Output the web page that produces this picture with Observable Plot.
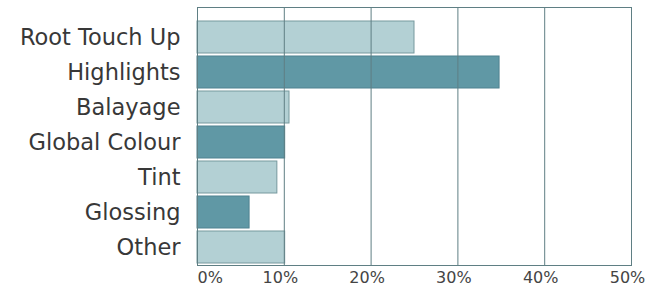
<!DOCTYPE html>
<html>
<head>
<meta charset="utf-8">
<script src="https://cdn.jsdelivr.net/npm/d3@7"></script>
<script src="https://cdn.jsdelivr.net/npm/@observablehq/plot@0.6"></script>
<style>
  html, body { margin: 0; padding: 0; background: #fff; }
  svg { display: block; }
</style>
</head>
<body>
<div id="chart"></div>
<script>
const categories = ["Root Touch Up", "Highlights", "Balayage", "Global Colour", "Tint", "Glossing", "Other"];
const values = [25, 34.8, 10.6, 10.1, 9.2, 6.0, 10.1];
const tickValues = [0, 10, 20, 30, 40, 50];
const tickLabels = ["0%", "10%", "20%", "30%", "40%", "50%"];

const data = categories.map((c, i) => ({category: c, value: values[i], idx: i}));
const ticks = tickValues.map((v, i) => ({v, label: tickLabels[i]}));

const light = "#b3d0d4", dark = "#6098a5";
const lightStroke = "#76999e", darkStroke = "#4f8290";
const gridColor = "#5f7f84";

const chart = Plot.plot({
  width: 650,
  height: 291,
  marginLeft: 197,
  marginRight: 19,
  marginTop: 7,
  marginBottom: 26,
  style: {fontFamily: "DejaVu Sans", background: "#fff"},
  x: {domain: [0, 50], axis: null},
  y: {domain: categories, paddingInner: 0.1, paddingOuter: 0, insetTop: 11, label: null},
  marks: [
    Plot.barX(data, {
      y: "category", x: "value",
      fill: d => d.idx % 2 ? dark : light,
      stroke: d => d.idx % 2 ? darkStroke : lightStroke,
      strokeWidth: 1
    }),
    Plot.ruleX(tickValues, {stroke: gridColor, strokeWidth: 1}),
    Plot.frame({stroke: gridColor, strokeWidth: 1}),
    Plot.axisY({tickSize: 0, tickPadding: 17, fontSize: 22.5, fill: "#383838", label: null}),
    Plot.text(ticks.filter(d => d.v === 0), {
      x: "v", text: "label", frameAnchor: "bottom", dy: 12, lineAnchor: "middle",
      textAnchor: "start", fontSize: 16, fill: "#444"
    }),
    Plot.text(ticks.filter(d => d.v !== 0), {
      x: "v", text: "label", frameAnchor: "bottom", dy: 12, lineAnchor: "middle",
      dx: -4, fontSize: 16, fill: "#444"
    })
  ]
});
document.getElementById("chart").appendChild(chart);
</script>
</body>
</html>
